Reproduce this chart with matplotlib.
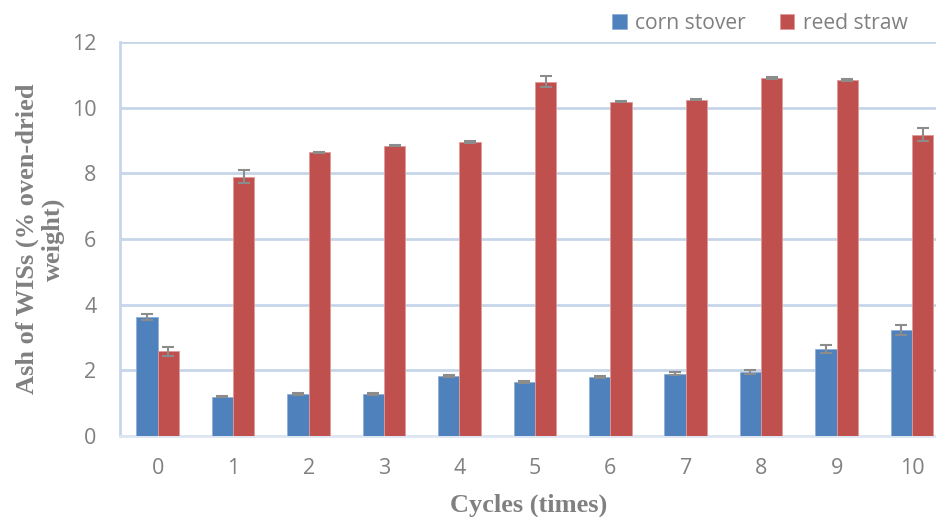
import matplotlib.pyplot as plt
import numpy as np

# data
cycles = ['0', '1', '2', '3', '4', '5', '6', '7', '8', '9', '10']
corn = [3.63, 1.20, 1.27, 1.27, 1.82, 1.65, 1.79, 1.90, 1.95, 2.65, 3.22]
corn_err = [0.09, 0.02, 0.03, 0.03, 0.03, 0.03, 0.03, 0.04, 0.07, 0.13, 0.15]
reed = [2.58, 7.90, 8.64, 8.84, 8.95, 10.79, 10.18, 10.24, 10.90, 10.84, 9.18]
reed_err = [0.13, 0.19, 0.02, 0.02, 0.02, 0.16, 0.02, 0.02, 0.02, 0.03, 0.20]

blue = '#4f81bd'
red = '#c0504d'
grid_c = '#c6d6ea'
txt_c = '#808080'

fig = plt.figure(figsize=(9.37, 5.17), dpi=100)
ax = fig.add_axes([120/937, 1 - 436/517, 1 - 120/937, (436 - 42)/517])

x = np.arange(len(cycles))
w = 0.283
ekw = dict(ecolor='#8c8c8c', elinewidth=1.5, capsize=4, capthick=1.5)
ax.bar(x - w/2, corn, w, color=blue, edgecolor='#8fb0d8', linewidth=0.6,
       yerr=corn_err, error_kw=ekw, label='corn stover', zorder=3)
ax.bar(x + w/2, reed, w, color=red, edgecolor='#e09a98', linewidth=0.6,
       yerr=reed_err, error_kw=ekw, label='reed straw', zorder=3)

ax.set_ylim(0, 12)
ax.set_xlim(-0.5, (937 - 158) / 75.4)
ax.set_yticks(range(0, 13, 2))
ax.set_xticks(x)
ax.set_xticklabels(cycles)
ax.yaxis.grid(True, color=grid_c, linewidth=2, zorder=0)
ax.set_axisbelow(True)
for s in ['top', 'right']:
    ax.spines[s].set_visible(False)
ax.spines['left'].set_color(grid_c)
ax.spines['left'].set_linewidth(2)
ax.spines['bottom'].set_color('#dde6f2')
ax.spines['bottom'].set_linewidth(2)
ax.tick_params(length=0, labelsize=15.5, labelcolor=txt_c)
ax.tick_params(axis='y', pad=17)
ax.tick_params(axis='x', pad=16)
for t in ax.get_xticklabels() + ax.get_yticklabels():
    t.set_family('Open Sans')

ax.set_xlabel('Cycles (times)', family='Liberation Serif', fontweight='bold',
              fontsize=19, color=txt_c, labelpad=10)
ax.set_ylabel('Ash of WISs (% oven-dried\nweight)', family='Liberation Serif',
              fontweight='bold', fontsize=19, color=txt_c,
              linespacing=1.15)
ax.yaxis.set_label_coords((65 - 120) / 817, 0.5)

leg = fig.legend(loc='upper right', bbox_to_anchor=(0.989, 1.012), ncol=2,
                 frameon=False, prop={'family': 'Open Sans', 'size': 15.2},
                 handlelength=0.7, handleheight=0.7, columnspacing=1.6,
                 handletextpad=0.4)
for t in leg.get_texts():
    t.set_color(txt_c)

fig.savefig('out.png', dpi=100)
